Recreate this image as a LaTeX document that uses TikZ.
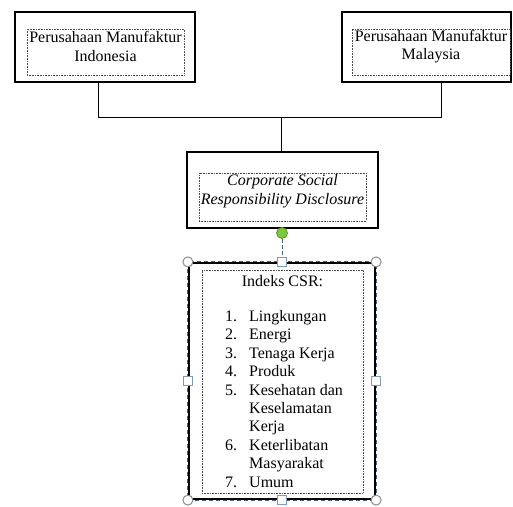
\documentclass[tikz,border=0pt]{standalone}
\usepackage{fontspec}
\setmainfont{Liberation Serif}
\definecolor{selblue}{RGB}{70,95,130}
\definecolor{hsq}{RGB}{125,155,192}
\definecolor{hcir}{RGB}{140,140,140}
\definecolor{grn}{RGB}{125,200,60}
\definecolor{grnd}{RGB}{90,150,40}
\tikzset{
  outerbox/.style={draw=black, line width=2pt, fill=white, inner sep=0pt},
  dotbox/.style={draw=black!70, densely dotted, line width=0.6pt, inner sep=0pt},
  txt/.style={align=center, inner sep=0pt, font=\fontsize{16}{18.4}\selectfont},
  conn/.style={draw=black, line width=1pt},
  hcircle/.style={circle, draw=hcir, fill=white, line width=1pt, minimum size=10pt, inner sep=0pt},
  hsquare/.style={rectangle, draw=hsq, fill=white, line width=1.2pt, minimum size=9pt, inner sep=0pt},
}
\begin{document}
\begin{tikzpicture}[x=1pt,y=-1pt]
\useasboundingbox[fill=white] (0,0) rectangle (513,506);
% connectors
\coordinate (j) at (281,117);
\coordinate (jl) at (98,117);
\coordinate (jr) at (441,117);
% boxes
\node[outerbox, minimum width=180pt, minimum height=70pt] (ind) at (105,47) {};
\node[outerbox, minimum width=169pt, minimum height=70pt] (mal) at (426.5,47) {};
\node[outerbox, minimum width=191pt, minimum height=76pt] (csr) at (282.5,190) {};
\draw[conn] (jl |- ind.south) -- (jl) -- (jr) -- (jr |- mal.south);
\draw[conn] (j) -- (j |- csr.north);
% inner frames
\node[dotbox, minimum width=157pt, minimum height=46pt] (f1) at (105.5,52) {};
\node[dotbox, minimum width=158pt, minimum height=46pt] (f2) at (431,52) {};
\node[dotbox, minimum width=167pt, minimum height=48pt] (f3) at (282.5,197) {};
% texts
\node[txt] (t1) at (105.5,46.5) {Perusahaan Manufaktur\\Indonesia};
\node[txt] (t2) at (431,46.5) {Perusahaan Manufaktur\\Malaysia};
\node[txt, font=\fontsize{16}{18.4}\selectfont\itshape] (t3) at (282.5,191) {Corporate Social\\Responsibility Disclosure};
% indeks box
\node[rectangle, draw=black, line width=2.2pt, fill=white, minimum width=186pt, minimum height=236pt, inner sep=0pt] (idx) at (282,381) {};
\draw[selblue, line width=1pt, dash pattern=on 4pt off 3pt] (idx.north west) rectangle (idx.south east);
\node[dotbox, minimum width=161pt, minimum height=223pt] (f4) at (282.5,381.5) {};
\node[txt, anchor=base] (t4) at (282.5,286) {Indeks CSR:};
\node[txt, anchor=base west, align=left] (t5) at (225,487) {%
\makebox[24pt][l]{1.}Lingkungan\\
\makebox[24pt][l]{2.}Energi\\
\makebox[24pt][l]{3.}Tenaga Kerja\\
\makebox[24pt][l]{4.}Produk\\
\makebox[24pt][l]{5.}Kesehatan dan\\
\hspace*{24pt}Keselamatan\\
\hspace*{24pt}Kerja\\
\makebox[24pt][l]{6.}Keterlibatan\\
\hspace*{24pt}Masyarakat\\
\makebox[24pt][l]{7.}Umum};
% rotation handle
\node[circle, draw=grnd, fill=grn, line width=0.8pt, minimum size=11pt, inner sep=0pt] (rot) at (282,233) {};
\node[hsquare] (hn) at (idx.north) {};
\draw[selblue, line width=1pt, dash pattern=on 4pt off 2pt] (rot) -- (hn);
% handles
\node[hcircle] (hnw) at (idx.north west) {};
\node[hcircle] (hne) at (idx.north east) {};
\node[hcircle] (hsw) at (idx.south west) {};
\node[hcircle] (hse) at (idx.south east) {};
\node[hsquare] (hw) at (idx.west) {};
\node[hsquare] (he) at (idx.east) {};
\node[hsquare] (hs) at (idx.south) {};
\end{tikzpicture}
\end{document}
